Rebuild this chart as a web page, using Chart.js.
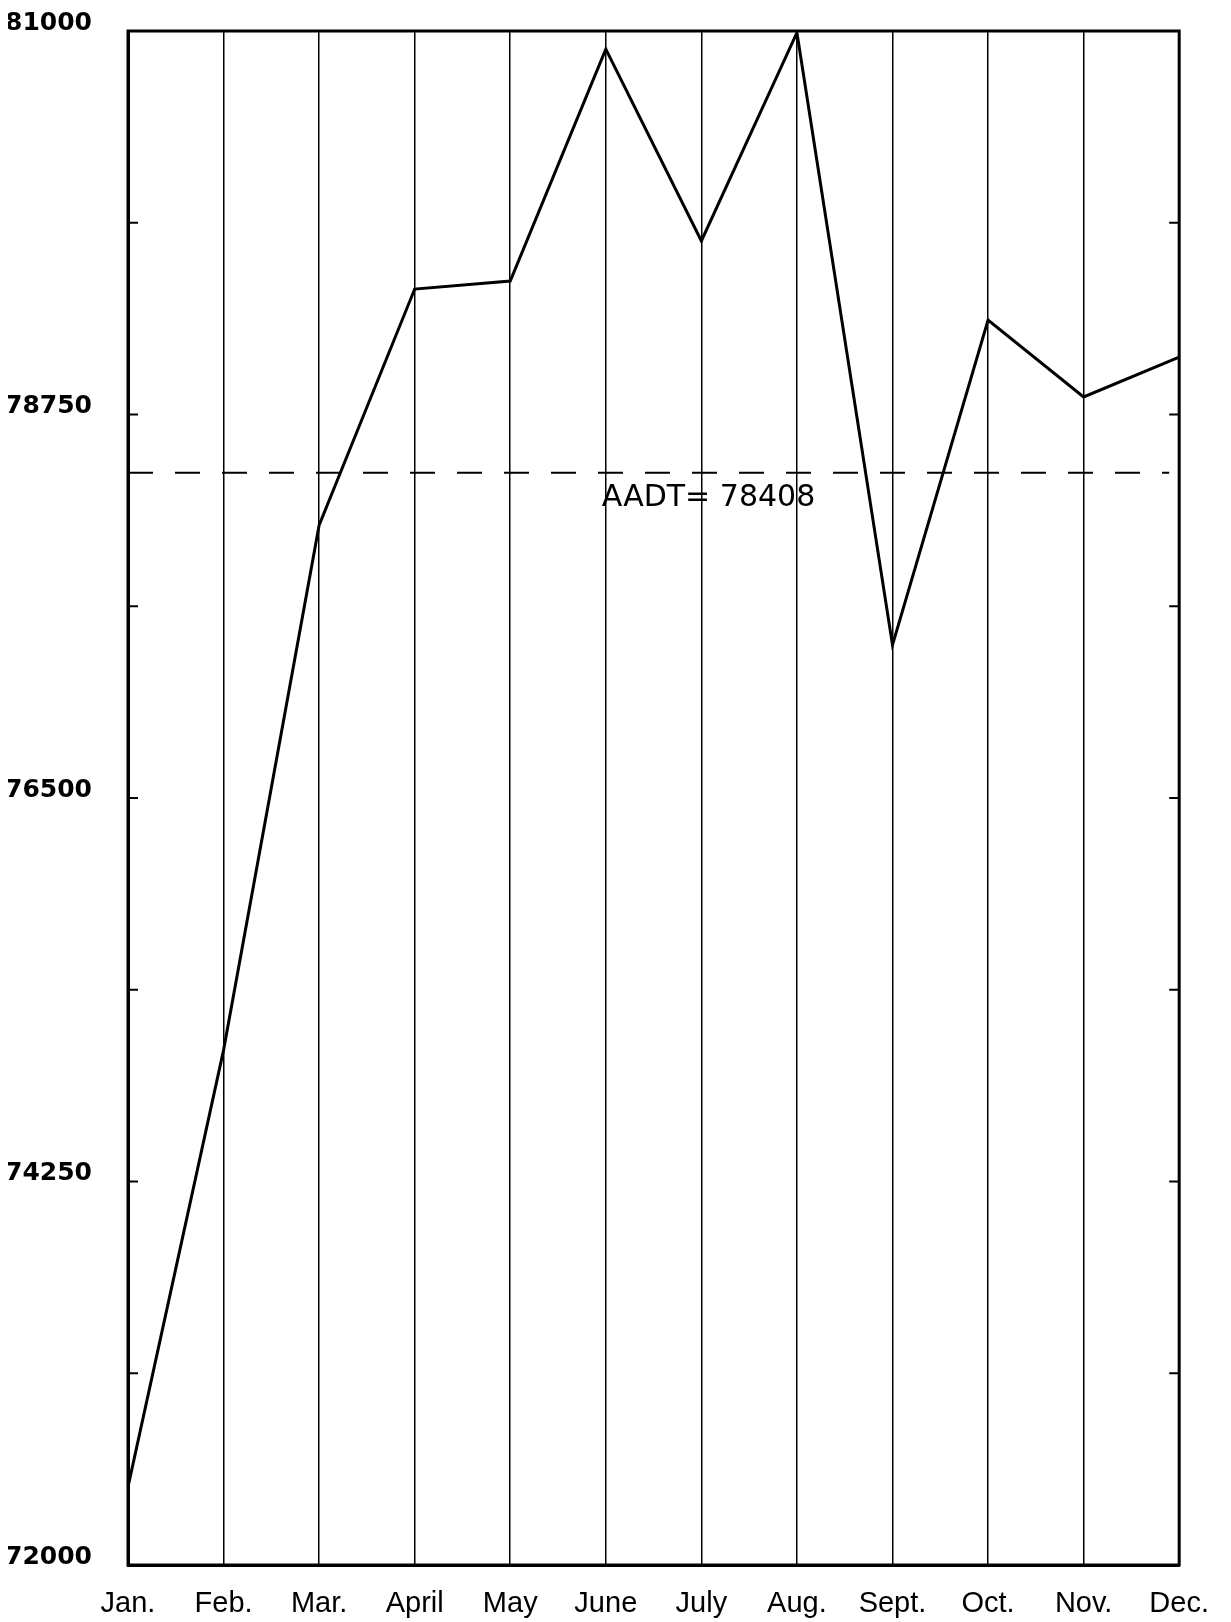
<!DOCTYPE html>
<html>
<head>
<meta charset="utf-8">
<script src="https://cdn.jsdelivr.net/npm/chart.js@4"></script>
<style>
  html, body { margin: 0; padding: 0; background: #fff; }
  #wrap { width: 1231px; height: 1622px; }
</style>
</head>
<body>
<div id="wrap"><canvas id="aadtChart"></canvas></div>
<script>
// Monthly traffic counts
const months = ['Jan.', 'Feb.', 'Mar.', 'April', 'May', 'June', 'July', 'Aug.', 'Sept.', 'Oct.', 'Nov.', 'Dec.'];
const monthlyVolume = [72458, 75021, 78100, 79486, 79533, 80894, 79768, 80990, 77398, 79304, 78853, 79087];
const aadt = 78408;
const yLabels = [72000, 74250, 76500, 78750, 81000];

// frame, inward ticks and the AADT reference line
const framePlugin = {
    id: 'frame',
    afterDatasetsDraw(chart) {
        const { ctx, chartArea: a, scales } = chart;
        const y = scales.y;
        ctx.save();
        ctx.strokeStyle = '#000';
        ctx.lineWidth = 3;
        ctx.strokeRect(a.left, a.top, a.right - a.left, a.bottom - a.top);

        // short inward ticks on both sides
        ctx.lineWidth = 2;
        y.ticks.forEach(t => {
            const py = y.getPixelForValue(t.value);
            ctx.beginPath();
            ctx.moveTo(a.left, py); ctx.lineTo(a.left + 10, py);
            ctx.moveTo(a.right, py); ctx.lineTo(a.right - 10, py);
            ctx.stroke();
        });

        // AADT dashed line
        const ay = y.getPixelForValue(aadt);
        ctx.lineWidth = 2;
        ctx.setLineDash([25, 22]);
        ctx.beginPath();
        ctx.moveTo(a.left, ay);
        ctx.lineTo(a.right - 10, ay);
        ctx.stroke();
        ctx.setLineDash([]);

        ctx.fillStyle = '#000';
        ctx.font = '30px "DejaVu Sans"';
        ctx.textBaseline = 'middle';
        ctx.textAlign = 'left';
        ctx.fillText('AADT= ' + aadt, scales.x.getPixelForValue(5) - 4, ay + 25);
        ctx.restore();
    }
};

const ctx = document.getElementById('aadtChart').getContext('2d');
const myChart = new Chart(ctx, {
    type: 'line',
    data: {
        labels: months,
        datasets: [{
            data: monthlyVolume,
            borderColor: '#000',
            borderWidth: 3,
            pointRadius: 0,
            tension: 0,
            fill: false
        }]
    },
    options: {
        responsive: true,
        maintainAspectRatio: false,
        animation: false,
        layout: {
            padding: { left: 8, right: 44, top: 31, bottom: 0 }
        },
        plugins: {
            legend: { display: false },
            tooltip: { enabled: false }
        },
        scales: {
            x: {
                offset: false,
                afterFit(scale) {
                    scale.height = 57;
                },
                grid: {
                    color: '#000',
                    lineWidth: 1.5,
                    drawTicks: false
                },
                border: { color: '#000', width: 3 },
                ticks: {
                    color: '#000',
                    padding: 22,
                    maxRotation: 0,
                    autoSkip: false,
                    font: { family: "'Liberation Sans', sans-serif", size: 29 }
                }
            },
            y: {
                min: 72000,
                max: 81000,
                afterBuildTicks(scale) {
                    const ticks = [];
                    for (let v = 72000; v <= 81000; v += 1125) ticks.push({ value: v });
                    scale.ticks = ticks;
                },
                afterFit(scale) {
                    scale.width = 120;
                    scale.paddingTop = 0;
                    scale.paddingBottom = 0;
                },
                grid: { drawOnChartArea: false, drawTicks: false },
                border: { color: '#000', width: 3 },
                ticks: {
                    color: '#000',
                    padding: 36,
                    labelOffset: -8,
                    font: { family: "'DejaVu Sans', sans-serif", size: 25, weight: 'bold' },
                    callback: v => yLabels.includes(v) ? String(v) : ''
                }
            }
        }
    },
    plugins: [framePlugin]
});
</script>
</body>
</html>
